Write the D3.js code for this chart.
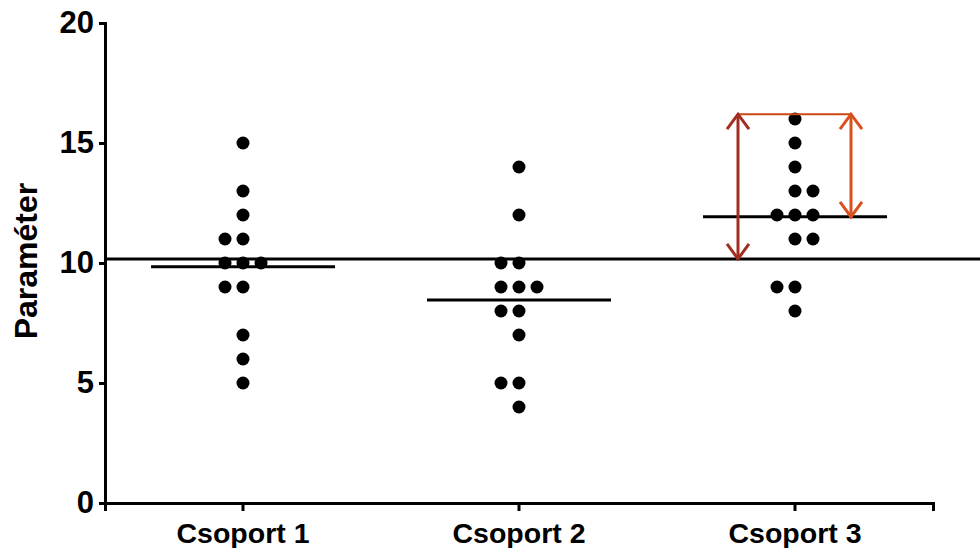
<!DOCTYPE html>
<html>
<head>
<meta charset="utf-8">
<script src="https://cdn.jsdelivr.net/npm/d3@7"></script>
<style>
  body { margin: 0; background: #fff; }
  text { font-family: "Liberation Sans", Arial, sans-serif; font-weight: bold; fill: #000; }
</style>
</head>
<body>
<svg width="980" height="548"></svg>
<script>
var groups = ["Csoport 1", "Csoport 2", "Csoport 3"];
var group1 = [15, 13, 12, 11, 11, 10, 10, 10, 9, 9, 7, 6, 5];
var group2 = [14, 12, 10, 10, 9, 9, 9, 8, 8, 7, 5, 5, 4];
var group3 = [16, 15, 14, 13, 13, 12, 12, 12, 11, 11, 9, 9, 8];
var yTicks = [0, 5, 10, 15, 20];
var referenceValue = 10.17;
var arrowTop = 16.2;

var width = 980, height = 548;
var svg = d3.select("svg");

var x = d3.scaleBand().domain(groups).range([105, 933]);
var y = d3.scaleLinear().domain([0, 20]).range([503, 23]);

// duplicate values spread sideways, pairs go left except where noted
var pairRight = { "Csoport 3": [13, 11] };
var dotStep = 18;

var allGroups = [group1, group2, group3];
var dots = [];
allGroups.forEach(function(vals, gi) {
  var name = groups[gi];
  var counts = d3.rollup(vals, function(v) { return v.length; }, function(v) { return v; });
  counts.forEach(function(n, v) {
    var offs;
    if (n == 1) offs = [0];
    else if (n == 2) offs = (pairRight[name] || []).indexOf(v) >= 0 ? [0, 1] : [-1, 0];
    else offs = [-1, 0, 1];
    offs.forEach(function(o) { dots.push({ group: name, value: v, off: o }); });
  });
});

var cx = function(g) { return x(g) + x.bandwidth() / 2; };

// reference line across the plot
svg.append("line")
  .attr("x1", x.range()[0]).attr("x2", width)
  .attr("y1", y(referenceValue)).attr("y2", y(referenceValue))
  .attr("stroke", "#000").attr("stroke-width", 3);

// group means
svg.append("g").selectAll("line").data(allGroups).enter()
  .append("line")
  .attr("x1", function(d, i) { return cx(groups[i]) - 92; })
  .attr("x2", function(d, i) { return cx(groups[i]) + 92; })
  .attr("y1", function(d) { return y(d3.mean(d)); })
  .attr("y2", function(d) { return y(d3.mean(d)); })
  .attr("stroke", "#000").attr("stroke-width", 3);

svg.append("g").selectAll("circle").data(dots).enter()
  .append("circle")
  .attr("cx", function(d) { return cx(d.group) + d.off * dotStep; })
  .attr("cy", function(d) { return y(d.value); })
  .attr("r", 6.5)
  .attr("fill", "#000");

// arrows in group 3
function arrow(xp, v1, v2, color) {
  var g = svg.append("g").attr("stroke", color).attr("stroke-width", 3).attr("fill", "none");
  var y1 = y(v1), y2 = y(v2);
  g.append("line").attr("x1", xp).attr("x2", xp).attr("y1", y1).attr("y2", y2);
  g.append("path").attr("d", "M" + (xp - 11) + "," + (y1 + 15) + "L" + xp + "," + y1 + "L" + (xp + 11) + "," + (y1 + 15));
  g.append("path").attr("d", "M" + (xp - 11) + "," + (y2 - 15) + "L" + xp + "," + y2 + "L" + (xp + 11) + "," + (y2 - 15));
}
var g3x = cx("Csoport 3");
svg.append("line")
  .attr("x1", g3x - 57).attr("x2", g3x + 56)
  .attr("y1", y(arrowTop)).attr("y2", y(arrowTop))
  .attr("stroke", "#CF4716").attr("stroke-width", 2);
arrow(g3x - 57, arrowTop, referenceValue, "#A22E1F");
arrow(g3x + 56, arrowTop, d3.mean(group3), "#D9521D");

// axes
var yAxis = d3.axisLeft(y).tickValues(yTicks).tickSizeOuter(0).tickSize(6).tickPadding(5);
var gy = svg.append("g").attr("transform", "translate(105,0)").call(yAxis);
gy.selectAll("path, line").attr("stroke", "#000").attr("stroke-width", 3);
gy.selectAll("text").style("font-size", "31px");

var xAxis = d3.axisBottom(x).tickSizeOuter(0).tickSize(8).tickPadding(12);
var gx = svg.append("g").attr("transform", "translate(0,503)").call(xAxis);
gx.selectAll("path, line").attr("stroke", "#000").attr("stroke-width", 3);
gx.selectAll("text").style("font-size", "28.5px");

svg.append("text")
  .attr("transform", "translate(37,261) rotate(-90)")
  .attr("text-anchor", "middle")
  .style("font-size", "32px")
  .text("Paraméter");
</script>
</body>
</html>
